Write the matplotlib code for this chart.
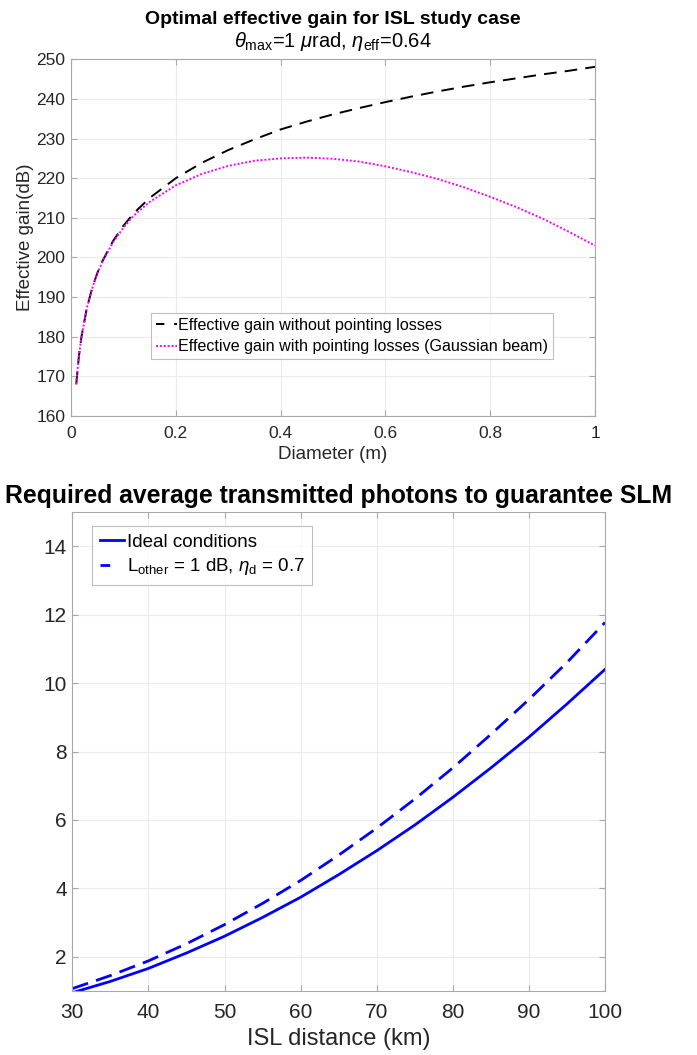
import matplotlib
matplotlib.use('Agg')
import matplotlib.pyplot as plt

# ---------------- data: top panel ----------------
diameter_m = [0.01, 0.015, 0.02, 0.03, 0.04, 0.05, 0.06, 0.08, 0.10, 0.12, 0.15,
              0.20, 0.25, 0.30, 0.35, 0.40, 0.45, 0.50, 0.55, 0.60, 0.65, 0.70,
              0.75, 0.80, 0.85, 0.90, 0.95, 1.00]
gain_no_pointing_db = [168.0, 175.0, 180.0, 187.1, 192.1, 196.0, 199.1, 204.1, 208.0,
                       211.2, 215.0, 220.0, 223.9, 227.1, 229.8, 232.3, 234.3, 236.1,
                       237.7, 239.2, 240.6, 241.9, 243.1, 244.2, 245.2, 246.2, 247.1, 248.1]
gain_pointing_db = [168.0, 175.0, 180.0, 187.1, 192.0, 195.9, 198.9, 203.8, 207.5,
                    210.6, 214.0, 218.2, 221.1, 223.1, 224.4, 225.0, 225.2, 224.9,
                    224.2, 223.0, 221.5, 219.8, 217.7, 215.3, 212.7, 209.8, 206.5, 203.0]
legend_top = ['Effective gain without pointing losses',
              'Effective gain with pointing losses (Gaussian beam)']

# ---------------- data: bottom panel ----------------
isl_km = [30, 35, 40, 45, 50, 55, 60, 65, 70, 75, 80, 85, 90, 95, 100]
photons_ideal = [0.95, 1.28, 1.66, 2.11, 2.60, 3.15, 3.74, 4.40, 5.10, 5.85, 6.66,
                 7.52, 8.42, 9.39, 10.40]
photons_losses = [1.07, 1.45, 1.88, 2.38, 2.94, 3.56, 4.23, 4.97, 5.76, 6.61, 7.52,
                  8.50, 9.52, 10.60, 11.77]
legend_bottom = ['Ideal conditions', r'L$_{\rm other}$ = 1 dB, $\eta_{\rm d}$ = 0.7']

top_xticks = [0, 0.2, 0.4, 0.6, 0.8, 1.0]
top_xticklabels = ['0', '0.2', '0.4', '0.6', '0.8', '1']
top_yticks = list(range(160, 251, 10))
bot_xticks = list(range(30, 101, 10))
bot_yticks = list(range(2, 15, 2))

# ---------------- style ----------------
plt.rcParams['font.family'] = ['Liberation Sans', 'DejaVu Sans']
plt.rcParams['mathtext.fontset'] = 'custom'
plt.rcParams['mathtext.rm'] = 'Liberation Sans'
plt.rcParams['mathtext.it'] = 'Liberation Sans:italic'
plt.rcParams['mathtext.bf'] = 'Liberation Sans:bold'

W, H = 697, 1055
fig = plt.figure(figsize=(W / 100, H / 100), dpi=100)


def box(l, t, r, b):
    return [l / W, 1 - b / H, (r - l) / W, (b - t) / H]


SPINE = '#a8a8a8'
GRID = '#ebebeb'
TXT = '#262626'


def style(ax, fs):
    for s in ax.spines.values():
        s.set_color(SPINE)
        s.set_linewidth(0.8)
    ax.grid(True, color=GRID, linewidth=0.8)
    ax.set_axisbelow(True)
    ax.tick_params(direction='in', top=True, right=True, length=4, width=0.8,
                   color=SPINE, labelcolor=TXT, labelsize=fs, pad=4)


# ---------------- top axes ----------------
ax1 = fig.add_axes(box(71, 59.3, 595, 416))
style(ax1, 12.5)
ax1.plot(diameter_m, gain_no_pointing_db, color='black', linestyle=(0, (6.5, 4.2)),
         linewidth=1.4, label=legend_top[0])
ax1.plot(diameter_m, gain_pointing_db, color='#ff00ff', linestyle=(0, (1, 1)),
         linewidth=1.4, label=legend_top[1])
ax1.set_xlim(0, 1)
ax1.set_ylim(160, 250)
ax1.set_xticks(top_xticks)
ax1.set_xticklabels(top_xticklabels)
ax1.set_yticks(top_yticks)
ax1.tick_params(axis='x', pad=7)
ax1.set_xlabel('Diameter (m)', fontsize=13.5, color=TXT, labelpad=4)
ax1.set_ylabel('Effective gain(dB)', fontsize=13.5, color=TXT, labelpad=2)
leg1 = ax1.legend(loc='upper left', bbox_to_anchor=((151 - 71) / 524, (416 - 313) / 356.7),
                  fontsize=11.6, frameon=True, fancybox=False, handlelength=1.3,
                  handletextpad=0.1, borderpad=0.3, labelspacing=0.4,
                  borderaxespad=0)
leg1.get_frame().set_edgecolor('#b0b0b0')
leg1.get_frame().set_linewidth(0.8)
leg1.get_lines()[0].set_linestyle((0, (4.3, 5.0)))

fig.text(333 / W, 1 - 24 / H, 'Optimal effective gain for ISL study case',
         ha='center', va='baseline', fontsize=14, fontweight='bold', color='black')
fig.text(333 / W, 1 - 47 / H, r'$\theta_{\rm max}$=1 $\mu$rad, $\eta_{\rm eff}$=0.64',
         ha='center', va='baseline', fontsize=14.5, color='black')

# ---------------- bottom axes ----------------
ax2 = fig.add_axes(box(72.3, 512, 605, 991))
style(ax2, 15)
ax2.plot(isl_km, photons_ideal, color='#0000ff', linestyle='-', linewidth=2.0,
         label=legend_bottom[0])
ax2.plot(isl_km, photons_losses, color='#0000ff', linestyle=(0, (6, 3)),
         linewidth=2.0, label=legend_bottom[1])
ax2.set_xlim(30, 100)
ax2.set_ylim(1, 15)
ax2.set_xticks(bot_xticks)
ax2.set_yticks(bot_yticks)
ax2.tick_params(axis='x', pad=9)
ax2.set_xlabel('ISL distance (km)', fontsize=17, color=TXT, labelpad=4)
leg2 = ax2.legend(loc='upper left', bbox_to_anchor=((92 - 72.3) / 532.7, (991 - 526) / 479),
                  fontsize=13.5, frameon=True, fancybox=False, handlelength=1.3,
                  handletextpad=0.15, borderpad=0.4, labelspacing=0.3,
                  borderaxespad=0)
leg2.get_frame().set_edgecolor('#b0b0b0')
leg2.get_frame().set_linewidth(0.8)
leg2.get_lines()[1].set_linestyle((0, (3.5, 5.5)))

fig.text(338.6 / W, 1 - 503 / H, 'Required average transmitted photons to guarantee SLM',
         ha='center', va='baseline', fontsize=17.8, fontweight='bold', color='black')

fig.savefig('out.png', dpi=100, facecolor='white')
